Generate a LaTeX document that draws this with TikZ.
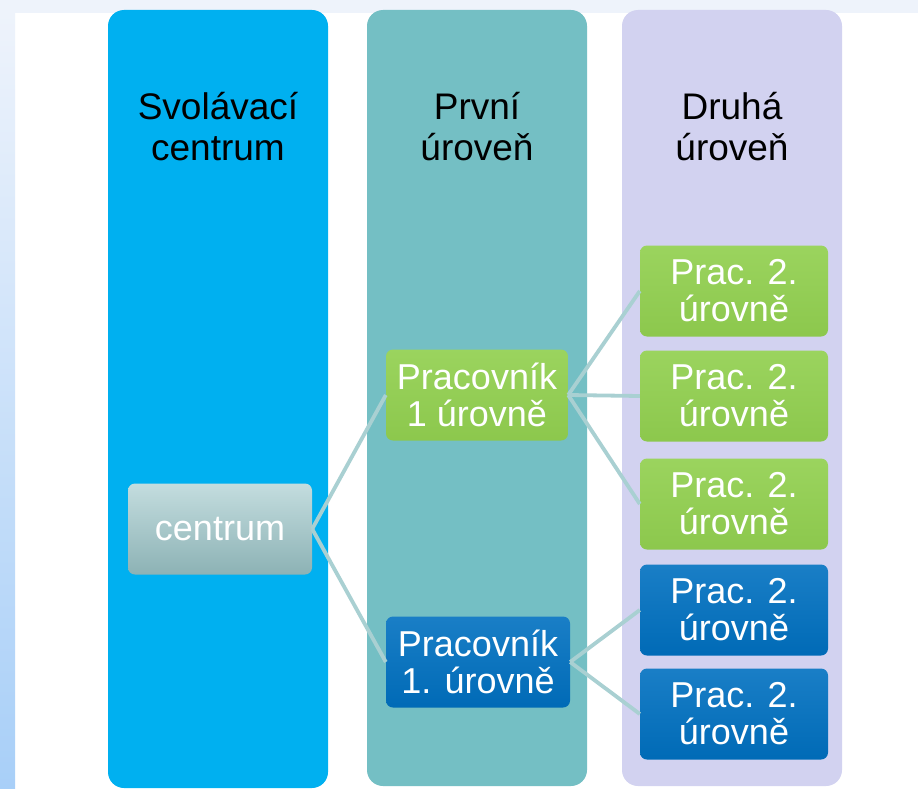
\documentclass[tikz,border=0pt]{standalone}
\usepackage{fontspec}
\setmainfont{Liberation Sans}
\definecolor{bgtop}{HTML}{EEF3FB}
\definecolor{bgleft}{HTML}{A8CFF8}
\definecolor{colsvol}{HTML}{00B0F0}
\definecolor{colprvni}{HTML}{74BFC4}
\definecolor{coldruha}{HTML}{D2D2F0}
\definecolor{zelena}{HTML}{92D050}
\definecolor{modra}{HTML}{0070C0}
\definecolor{sedomodra}{HTML}{9CC6C9}
\definecolor{spoj}{HTML}{A9D0D2}
\begin{document}
\begin{tikzpicture}[x=1pt, y=-1pt,
  every node/.style = {align=center, inner sep=0pt},
  sloupec/.style = {rounded corners=16pt},
  hlava/.style = {font=\fontsize{37}{41}\selectfont},
  box/.style = {rounded corners=7pt, text=white, minimum height=91pt,
    font=\fontsize{36}{37}\selectfont},
  zel/.style = {box, top color=zelena!92!white, bottom color=zelena!96!black},
  mod/.style = {box, top color=modra!90!white, bottom color=modra!95!black},
  link/.style = {draw=spoj, line width=3.8pt}]
  \useasboundingbox (0,0) rectangle (918,789);
  \fill[white] (0,0) rectangle (918,789);
  \fill[bgtop] (0,0) rectangle (918,13);
  \shade[top color=bgtop, bottom color=bgleft] (0,13) rectangle (15,789);
  \fill[colsvol, sloupec] (108,10) rectangle (328,788);
  \fill[colprvni, sloupec] (367,10) rectangle (587,786);
  \fill[coldruha, sloupec] (622,10) rectangle (842,786);
  \node[hlava] (hsvol) at (218,127) {Svolávací\\centrum};
  \node[hlava] (hprvni) at (477,127) {První\\úroveň};
  \node[hlava] (hdruha) at (732,127) {Druhá\\úroveň};
  \node[box, minimum width=184pt, top color=sedomodra!60!white,
    bottom color=sedomodra!90!black] (centrum) at (220,529) {centrum};
  \node[zel, minimum width=182pt] (prvA) at (477,395) {Pracovník\\1 úrovně};
  \node[mod, minimum width=184pt] (prvB) at (478,662) {Pracovník\\1. úrovně};
  \node[zel, minimum width=188pt] (druA) at (734,291) {Prac. 2.\\úrovně};
  \node[zel, minimum width=188pt] (druB) at (734,396) {Prac. 2.\\úrovně};
  \node[zel, minimum width=188pt] (druC) at (734,504) {Prac. 2.\\úrovně};
  \node[mod, minimum width=188pt] (druD) at (734,610) {Prac. 2.\\úrovně};
  \node[mod, minimum width=188pt] (druE) at (734,714) {Prac. 2.\\úrovně};
  \path [link] (centrum.east) -- (prvA.west);
  \path [link] (centrum.east) -- (prvB.west);
  \path [link] (prvA.east) -- (druA.west);
  \path [link] (prvA.east) -- (druB.west);
  \path [link] (prvA.east) -- (druC.west);
  \path [link] (prvB.east) -- (druD.west);
  \path [link] (prvB.east) -- (druE.west);
\end{tikzpicture}
\end{document}
